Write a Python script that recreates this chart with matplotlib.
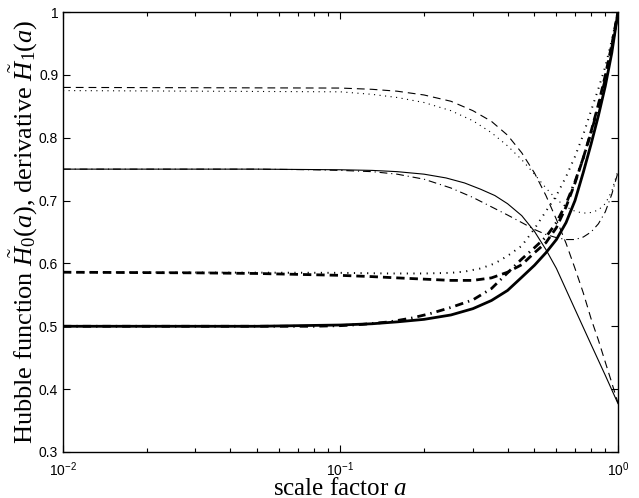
import math
import matplotlib
matplotlib.use("Agg")
import matplotlib.pyplot as plt
from matplotlib.ticker import FuncFormatter, LogLocator, MultipleLocator

# ==========================================
# Data
# ==========================================
# thick curves: Hubble function H0(a)
a_h0_solid = [0.01, 0.05, 0.1, 0.13, 0.16, 0.2, 0.25, 0.3, 0.35, 0.4, 0.45, 0.5, 0.55, 0.6, 0.65, 0.7, 0.75, 0.8, 0.85, 0.9, 0.95, 1.0]
h0_solid = [0.500, 0.500, 0.502, 0.504, 0.507, 0.511, 0.518, 0.528, 0.541, 0.557, 0.578, 0.597, 0.617, 0.638, 0.665, 0.700, 0.745, 0.790, 0.835, 0.882, 0.935, 1.0]

a_h0_dashdot = [0.01, 0.05, 0.08, 0.1, 0.12, 0.15, 0.18, 0.21, 0.25, 0.3, 0.35, 0.4, 0.45, 0.5, 0.55, 0.6, 0.65, 0.7, 0.75, 0.8, 0.85, 0.9, 0.95, 1.0]
h0_dashdot = [0.500, 0.500, 0.500, 0.501, 0.503, 0.507, 0.513, 0.520, 0.530, 0.542, 0.560, 0.585, 0.607, 0.625, 0.642, 0.665, 0.695, 0.730, 0.768, 0.808, 0.850, 0.893, 0.943, 1.0]

a_h0_dashed = [0.01, 0.03, 0.05, 0.08, 0.1, 0.13, 0.16, 0.2, 0.25, 0.3, 0.35, 0.4, 0.45, 0.5, 0.55, 0.6, 0.65, 0.7, 0.75, 0.8, 0.85, 0.9, 0.95, 1.0]
h0_dashed = [0.586, 0.585, 0.584, 0.582, 0.581, 0.579, 0.577, 0.575, 0.573, 0.573, 0.577, 0.586, 0.598, 0.617, 0.633, 0.657, 0.690, 0.728, 0.768, 0.810, 0.853, 0.899, 0.948, 1.0]

a_h0_dotted = [0.01, 0.1, 0.15, 0.2, 0.25, 0.28, 0.32, 0.36, 0.4, 0.45, 0.5, 0.55, 0.6, 0.65, 0.7, 0.75, 0.8, 0.85, 0.9, 0.95, 1.0]
h0_dotted = [0.586, 0.585, 0.584, 0.584, 0.585, 0.587, 0.592, 0.600, 0.612, 0.628, 0.655, 0.683, 0.708, 0.738, 0.770, 0.805, 0.843, 0.878, 0.913, 0.955, 1.0]

# thin curves: derivative H1(a)
a_h1_solid = [0.01, 0.05, 0.1, 0.13, 0.16, 0.2, 0.24, 0.28, 0.32, 0.36, 0.4, 0.45, 0.5, 0.55, 0.6, 0.7, 0.8, 0.9, 1.0]
h1_solid = [0.750, 0.750, 0.749, 0.748, 0.746, 0.742, 0.736, 0.728, 0.718, 0.708, 0.695, 0.676, 0.651, 0.622, 0.592, 0.527, 0.471, 0.422, 0.377]

a_h1_dashdot = [0.01, 0.05, 0.08, 0.1, 0.13, 0.16, 0.2, 0.25, 0.3, 0.35, 0.4, 0.45, 0.5, 0.55, 0.6, 0.65, 0.7, 0.75, 0.8, 0.85, 0.9, 0.95, 1.0]
h1_dashdot = [0.750, 0.750, 0.749, 0.748, 0.746, 0.742, 0.734, 0.720, 0.705, 0.690, 0.677, 0.665, 0.654, 0.646, 0.641, 0.638, 0.638, 0.642, 0.650, 0.663, 0.682, 0.710, 0.745]

a_h1_dashed = [0.01, 0.1, 0.13, 0.16, 0.2, 0.25, 0.3, 0.35, 0.4, 0.45, 0.5, 0.55, 0.6, 0.65, 0.7, 0.75, 0.8, 0.85, 0.9, 0.95, 1.0]
h1_dashed = [0.880, 0.879, 0.877, 0.874, 0.868, 0.858, 0.843, 0.826, 0.804, 0.776, 0.744, 0.708, 0.670, 0.632, 0.592, 0.553, 0.512, 0.478, 0.443, 0.410, 0.378]

a_h1_dotted = [0.01, 0.1, 0.13, 0.16, 0.2, 0.25, 0.3, 0.35, 0.4, 0.45, 0.5, 0.55, 0.6, 0.65, 0.7, 0.75, 0.8, 0.85, 0.9, 0.95, 1.0]
h1_dotted = [0.875, 0.873, 0.869, 0.864, 0.856, 0.843, 0.827, 0.808, 0.787, 0.765, 0.742, 0.720, 0.702, 0.690, 0.683, 0.680, 0.681, 0.685, 0.695, 0.715, 0.748]

# ==========================================
# Style
# ==========================================
plt.rcParams['mathtext.fontset'] = 'custom'
plt.rcParams['mathtext.rm'] = 'Liberation Serif'
plt.rcParams['mathtext.it'] = 'Liberation Serif:italic'
plt.rcParams['mathtext.sf'] = 'Liberation Sans'
plt.rcParams['font.family'] = 'Liberation Sans'
plt.rcParams['lines.dash_capstyle'] = 'butt'

THICK = 2.0
THIN = 0.8

fig = plt.figure(figsize=(6.39, 4.98), dpi=100)
ax = fig.add_axes([0.0986, 0.0924, 0.8685, 0.8835])

ax.plot(a_h0_solid, h0_solid, color='k', lw=THICK, ls='-')
ax.plot(a_h0_dashdot, h0_dashdot, color='k', lw=THICK, ls=(0, (3, 1.8, 0.5, 1.8)))
ax.plot(a_h0_dashed, h0_dashed, color='k', lw=THICK, ls=(0, (3, 1.8)))
ax.plot(a_h0_dotted, h0_dotted, color='k', lw=1.4, ls=(0, (0.6, 2.8)))

ax.plot(a_h1_solid, h1_solid, color='k', lw=THIN, ls='-')
ax.plot(a_h1_dashdot, h1_dashdot, color='k', lw=THIN, ls=(0, (7, 3.5, 1, 3.5)))
ax.plot(a_h1_dashed, h1_dashed, color='k', lw=THIN, ls=(0, (7, 4.5)))
ax.plot(a_h1_dotted, h1_dotted, color='k', lw=THIN, ls=(0, (1, 4)))

ax.set_xscale('log')
ax.set_xlim(1e-2, 1)
ax.set_ylim(0.3, 1)
ax.yaxis.set_major_locator(MultipleLocator(0.1))
ax.yaxis.set_major_formatter(FuncFormatter(lambda v, p: f"{v:g}"))
ax.xaxis.set_major_locator(LogLocator(base=10, numticks=5))
ax.xaxis.set_major_formatter(FuncFormatter(lambda v, p: r'$\mathsf{10^{%d}}$' % round(math.log10(v))))

ax.tick_params(which='both', direction='in', top=True, right=True, labelsize=10, width=0.8)
ax.tick_params(which='major', length=5)
ax.tick_params(which='minor', length=3)
ax.tick_params(axis='x', pad=6)
for sp in ax.spines.values():
    sp.set_linewidth(1.0)

ax.set_xlabel(r'scale factor $a$', family='Liberation Serif', fontsize=18, labelpad=-1)
ax.set_ylabel(r'Hubble function $\tilde{H}_0(a)$, derivative $\tilde{H}_1(a)$',
              family='Liberation Serif', fontsize=19, labelpad=-1)

fig.savefig("out.png", dpi=100)
